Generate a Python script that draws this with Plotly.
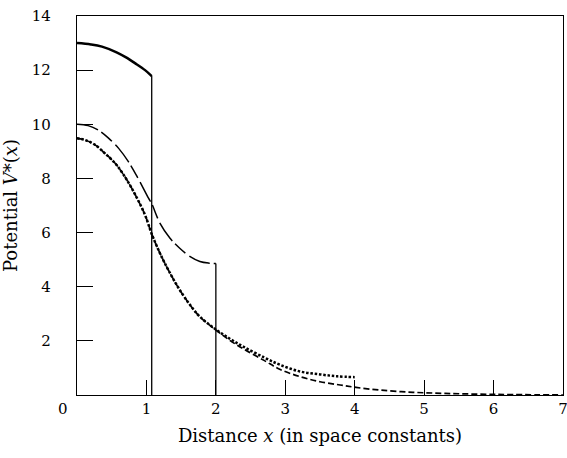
import plotly.graph_objects as go

# Upper solid curve (x from 0 to ~1.08)
top_x = [0.0, 0.2, 0.36, 0.57, 0.7, 0.84, 0.98, 1.076]
top_y = [13.0, 12.95, 12.87, 12.66, 12.48, 12.25, 12.0, 11.78]

# Long-dash curve (x from 0 to 2)
ld_x = [0.0, 0.16, 0.31, 0.45, 0.60, 0.74, 0.88, 1.03, 1.076, 1.196, 1.34, 1.48, 1.63, 1.77, 1.9, 2.0]
ld_y = [10.0, 9.95, 9.78, 9.50, 9.11, 8.62, 8.0, 7.27, 7.07, 6.34, 5.79, 5.42, 5.11, 4.93, 4.87, 4.86]

# Dotted curve (sealed end at x = 4)
dot_x = [0.0, 0.115, 0.26, 0.40, 0.55, 0.69, 0.84, 0.98, 1.076, 1.196, 1.34, 1.48, 1.63, 1.77, 2.0, 2.2, 2.4, 2.7, 2.92, 3.21, 3.5, 3.75, 4.0]
dot_y = [9.48, 9.42, 9.24, 8.93, 8.56, 8.06, 7.39, 6.65, 5.95, 5.23, 4.5, 3.88, 3.32, 2.89, 2.42, 2.08, 1.78, 1.38, 1.12, 0.87, 0.76, 0.69, 0.66]

# Dashed curve (x from 0 to 7)
da_x = [0.0, 0.115, 0.26, 0.40, 0.55, 0.69, 0.84, 0.98, 1.076, 1.196, 1.34, 1.48, 1.63, 1.77, 2.0, 2.2, 2.4, 2.7, 2.92, 3.21, 3.5, 3.79, 4.02, 4.37, 4.84, 5.3, 5.8, 6.3, 7.0]
da_y = [9.48, 9.42, 9.24, 8.93, 8.56, 8.06, 7.39, 6.65, 5.95, 5.23, 4.5, 3.88, 3.32, 2.89, 2.40, 2.02, 1.70, 1.27, 0.95, 0.68, 0.49, 0.37, 0.28, 0.18, 0.10, 0.06, 0.03, 0.015, 0.0]

# Drop lines at the ends of the top and long-dash curves
drop1_x = [1.076, 1.076]
drop1_y = [11.78, 0.0]
drop2_x = [2.0, 2.0]
drop2_y = [4.86, 0.0]

x_ticks = [1, 2, 3, 4, 5, 6, 7]
y_ticks = [2, 4, 6, 8, 10, 12, 14]

FONT = "DejaVu Serif"

fig = go.Figure()
fig.add_trace(go.Scatter(x=drop1_x, y=drop1_y, mode="lines", line=dict(color="black", width=1.3)))
fig.add_trace(go.Scatter(x=drop2_x, y=drop2_y, mode="lines", line=dict(color="black", width=1.3)))
fig.add_trace(go.Scatter(x=da_x, y=da_y, mode="lines", line=dict(color="black", width=1.7, dash="6px,3px", shape="spline")))
fig.add_trace(go.Scatter(x=dot_x, y=dot_y, mode="lines", line=dict(color="black", width=2.5, dash="2.5px,1.8px", shape="spline")))
fig.add_trace(go.Scatter(x=ld_x, y=ld_y, mode="lines", line=dict(color="black", width=1.5, dash="22px,4px,14px,5px", shape="spline")))
fig.add_trace(go.Scatter(x=top_x, y=top_y, mode="lines", line=dict(color="black", width=2.5, shape="spline")))

fig.update_layout(
    width=567, height=458,
    margin=dict(l=77, r=4, t=16, b=63),
    paper_bgcolor="white", plot_bgcolor="white",
    showlegend=False,
    font=dict(family=FONT, size=15, color="black"),
    xaxis=dict(
        range=[0, 7], tickvals=x_ticks, ticktext=[str(v) for v in x_ticks],
        ticks="inside", ticklen=15, tickwidth=1.2, tickcolor="black",
        showline=True, mirror=True, linecolor="black", linewidth=1.3,
        showgrid=False, zeroline=False, ticklabeloverflow="allow", automargin=False,
        title=dict(text="Distance <i>x</i> (in space constants)", standoff=12, font=dict(size=18)),
    ),
    yaxis=dict(
        range=[0, 14], tickvals=y_ticks, ticktext=[str(v) for v in y_ticks],
        ticks="inside", ticklen=16, tickwidth=1.2, tickcolor="black",
        showline=True, mirror=True, linecolor="black", linewidth=1.3,
        showgrid=False, zeroline=False, ticklabelstandoff=22, ticklabeloverflow="allow",
        automargin=False,
        title=dict(text="Potential <i>V</i>*(<i>x</i>)", standoff=10, font=dict(size=18)),
    ),
)
fig.add_annotation(text="0", xref="paper", yref="paper", x=0, y=0, xanchor="center", yanchor="top",
                   xshift=-14, yshift=-3, showarrow=False, font=dict(size=15))

fig.write_html("out.html")
